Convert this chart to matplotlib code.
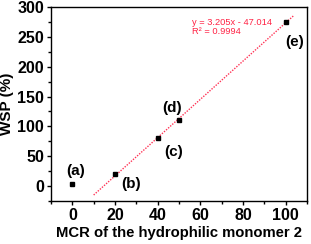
import matplotlib
matplotlib.use('Agg')
import matplotlib.pyplot as plt
from matplotlib.ticker import MultipleLocator

plt.rcParams['font.family'] = ['Liberation Sans', 'DejaVu Sans']

mcr = [0, 20, 40, 50, 100]
wsp = [3, 20, 80, 110, 275]
labels = ['(a)', '(b)', '(c)', '(d)', '(e)']
label_offsets = [(-3, 22), (3, -16), (3, -23), (-8, 20), (0, -33)]
slope = 3.205
intercept = -47.014
fit_x = [10, 104]

fig = plt.figure(figsize=(3.11, 2.44), dpi=100)
ax = fig.add_axes([51 / 311, 1 - 201 / 244, 256 / 311, 194 / 244])

fit_y = [slope * x + intercept for x in fit_x]
ax.plot(fit_x, fit_y, color='#ff3355', linestyle=(0, (1, 1)), linewidth=1.0)
ax.plot(mcr, wsp, 's', color='black', markersize=3.5)

for x, y, lab, (dx, dy) in zip(mcr, wsp, labels, label_offsets):
    ax.text(x + dx, y + dy, lab, fontsize=11, fontweight='bold', ha='left', va='center')

ax.text(56, 266, 'y = 3.205x - 47.014\nR² = 0.9994', color='#ff2244', fontsize=6.7,
        ha='left', va='center', linespacing=1.0)

ax.set_xlim(-10, 110)
ax.set_ylim(-25, 300)
ax.xaxis.set_major_locator(MultipleLocator(20))
ax.xaxis.set_minor_locator(MultipleLocator(10))
ax.yaxis.set_major_locator(MultipleLocator(50))
ax.yaxis.set_minor_locator(MultipleLocator(25))
ax.tick_params(which='both', direction='out', width=1.0, labelsize=11.5, pad=2)
ax.tick_params(which='major', length=3)
ax.tick_params(which='minor', length=2)
for lab in ax.get_xticklabels() + ax.get_yticklabels():
    lab.set_fontweight('bold')
for sp in ax.spines.values():
    sp.set_linewidth(1.0)

ax.set_xlabel('MCR of the hydrophilic monomer 2', fontsize=10.7, fontweight='bold', labelpad=2)
ax.set_ylabel('WSP (%)', fontsize=11, fontweight='bold', labelpad=2)

fig.savefig('out.png', dpi=100)
